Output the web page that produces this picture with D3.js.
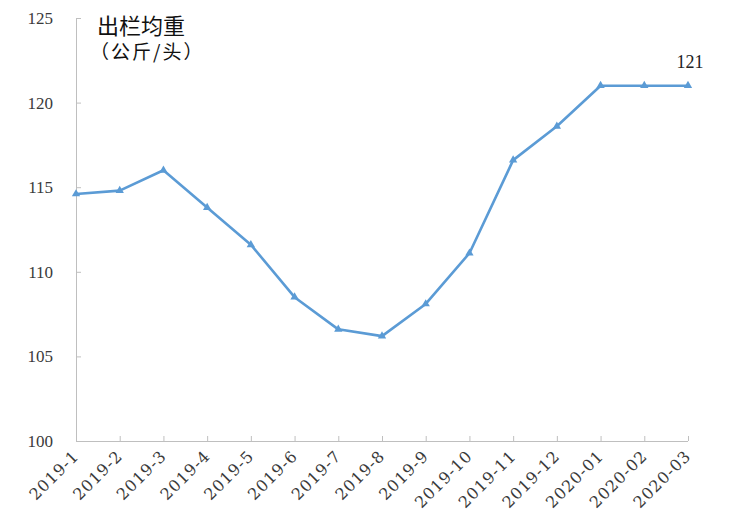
<!DOCTYPE html>
<html><head><meta charset="utf-8">
<script src="https://cdn.jsdelivr.net/npm/d3@7"></script>
<style>body{margin:0;background:#fff}</style>
</head><body>
<svg id="c" width="751" height="519"></svg>
<script>
const categories = ["2019-1","2019-2","2019-3","2019-4","2019-5","2019-6","2019-7","2019-8","2019-9","2019-10","2019-11","2019-12","2020-01","2020-02","2020-03"];
const values = [114.6,114.8,116.0,113.8,111.6,108.5,106.6,106.2,108.1,111.1,116.6,118.6,121.0,121.0,121.0];
const yTicks = [100,105,110,115,120,125];
const titleLines = ["出栏均重","（公斤/头）"];
const lastLabel = "121";

const svg = d3.select("#c");
const x = d3.scalePoint().domain(categories).range([76,688]);
const y = d3.scaleLinear().domain([100,125]).range([441,18]);
const serif = "'Liberation Serif','DejaVu Serif',serif";
const serif2 = "'DejaVu Serif',serif";
const axisColor = "#BFBFBF";

// y axis
const ya = svg.append("g").attr("transform","translate(76,0)")
  .call(d3.axisRight(y).tickValues(yTicks).tickSize(5).tickFormat(""));
ya.select(".domain").attr("stroke",axisColor).attr("d","M0.5,18V441.5");
ya.selectAll(".tick line").attr("stroke",axisColor);
svg.selectAll(".ylab").data(yTicks).join("text")
  .attr("x",53).attr("y",d=>y(d)).attr("dy","0.35em")
  .attr("text-anchor","end").attr("font-family",serif).attr("font-size",17)
  .attr("fill","#3a3a3a").text(d=>d);

// x axis
const xa = svg.append("g").attr("transform","translate(0,441)")
  .call(d3.axisTop(x).tickSize(5).tickFormat(""));
xa.select(".domain").attr("stroke",axisColor).attr("d","M76,0.5H688");
xa.selectAll(".tick line").attr("stroke",axisColor);
svg.selectAll(".xlab").data(categories).join("text")
  .attr("transform",d=>`translate(${x(d)+4},${457}) rotate(-45)`)
  .attr("text-anchor","end").attr("font-family",serif2).attr("font-size",16)
  .attr("letter-spacing",1).attr("fill","#3a3a3a").text(d=>d);

// line
const line = d3.line().x((d,i)=>x(categories[i])).y(d=>y(d));
svg.append("path").datum(values).attr("d",line)
  .attr("fill","none").attr("stroke","#5B9BD5").attr("stroke-width",2.6)
  .attr("stroke-linejoin","round");
const tri = d3.symbol().type(d3.symbolTriangle).size(30);
svg.selectAll(".mk").data(values).join("path")
  .attr("d",tri).attr("transform",(d,i)=>`translate(${x(categories[i])},${y(d)})`)
  .attr("fill","#5B9BD5");

// last label
svg.append("text").attr("x",x(categories[categories.length-1])+2).attr("y",y(values[values.length-1])-18)
  .attr("text-anchor","middle").attr("font-family",serif).attr("font-size",18)
  .attr("fill","#222").text(lastLabel);

// title
svg.append("text").attr("x",97).attr("y",34).attr("font-family","'Noto Sans CJK SC',sans-serif")
  .attr("font-size",22).attr("fill","#111").text(titleLines[0]);
svg.append("text").attr("x",90).attr("y",59).attr("font-family","'Noto Sans CJK SC',sans-serif")
  .attr("font-size",19).attr("letter-spacing",2).attr("fill","#111").text(titleLines[1]);
</script>
</body></html>
